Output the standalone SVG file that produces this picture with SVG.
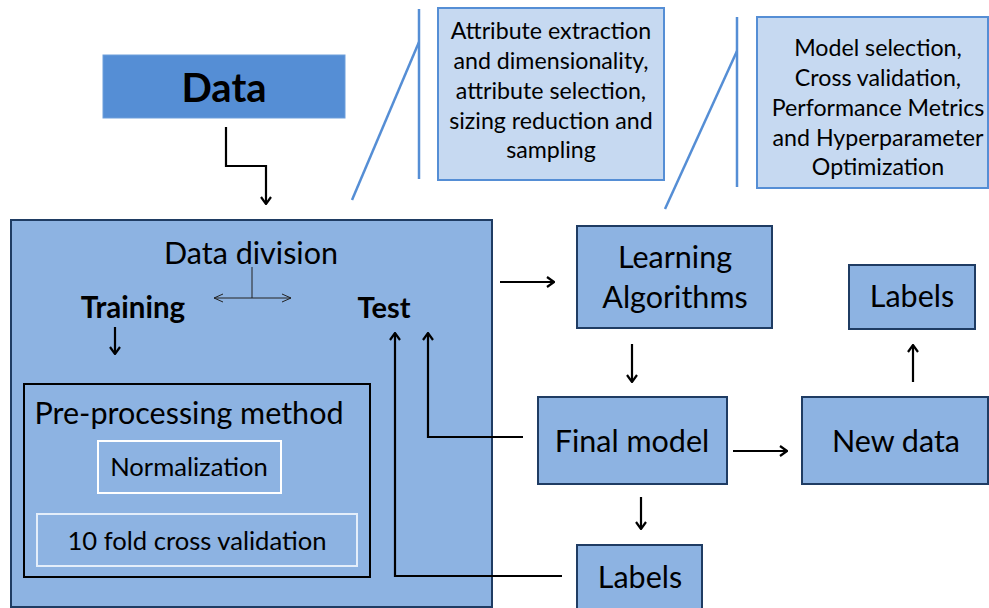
<svg xmlns="http://www.w3.org/2000/svg" width="989" height="608" viewBox="0 0 989 608">
  <style>
    text { font-family: Lato, "Open Sans", "Liberation Sans", sans-serif; fill: #000; text-anchor: middle; }
    .box { fill: #8db3e2; stroke: #1f3c63; stroke-width: 2; }
    .info { fill: #c6d9f1; stroke: #558ed5; stroke-width: 2; }
    .callout { stroke: #558ed5; stroke-width: 2.5; fill: none; }
    .lbl { font-size: 30.5px; }
    .small { font-size: 23.2px; }
    .inner { font-size: 25.6px; }
    .bold { font-weight: bold; }
    .conn { stroke: #000; stroke-width: 2.2; fill: none; }
    .thin { stroke: #222; stroke-width: 1; fill: none; }
  </style>
  <defs>
    <marker id="arrow" viewBox="0 0 12 12" refX="11" refY="6" markerWidth="12" markerHeight="12" markerUnits="userSpaceOnUse" orient="auto">
      <path d="M4,1 L11,6 L4,11" fill="none" stroke="#000" stroke-width="2.2"/>
    </marker>
    <marker id="arrowThin" viewBox="0 0 12 12" refX="11" refY="6" markerWidth="12" markerHeight="12" markerUnits="userSpaceOnUse" orient="auto">
      <path d="M2,2 L11,6 L2,10" fill="none" stroke="#222" stroke-width="1"/>
    </marker>
  </defs>

  <!-- input data -->
  <g id="data">
    <rect x="103" y="55" width="242" height="63" fill="#558ed5" stroke="#6f9fdb" stroke-width="1"/>
    <text x="224" y="102" class="bold" font-size="40">Data</text>
  </g>

  <!-- feature engineering note -->
  <g id="note-attributes">
    <rect class="info" x="438" y="8" width="226" height="172"/>
    <text class="small" x="551" y="39">Attribute extraction</text>
    <text class="small" x="551" y="69">and dimensionality,</text>
    <text class="small" x="551" y="99">attribute selection,</text>
    <text class="small" x="551" y="129">sizing reduction and</text>
    <text class="small" x="551" y="158">sampling</text>
  </g>

  <!-- model tuning note -->
  <g id="note-model">
    <rect class="info" x="757" y="17" width="231" height="171"/>
    <text class="small" x="878" y="56">Model selection,</text>
    <text class="small" x="878" y="86">Cross validation,</text>
    <text class="small" x="878" y="116">Performance Metrics</text>
    <text class="small" x="878" y="146">and Hyperparameter</text>
    <text class="small" x="878" y="175">Optimization</text>
  </g>

  <!-- data division / preprocessing container -->
  <g id="data-division">
    <rect class="box" x="11" y="220" width="481" height="387"/>
    <text class="lbl" x="251" y="264">Data division</text>
    <text class="bold" x="133" y="318" font-size="29.5">Training</text>
    <text class="bold" x="384" y="318" font-size="29">Test</text>
  </g>

  <g id="preprocessing">
    <rect x="24" y="384" width="346" height="193" fill="none" stroke="#000" stroke-width="2"/>
    <text class="lbl" x="189" y="424">Pre-processing method</text>
  </g>

  <g id="normalization">
    <rect x="98" y="441" width="183" height="52" fill="none" stroke="#fff" stroke-width="2"/>
    <text class="inner" x="189" y="476">Normalization</text>
  </g>

  <g id="cross-validation">
    <rect x="37" y="514" width="320" height="52" fill="none" stroke="#e4eefa" stroke-width="2"/>
    <text class="inner" x="197" y="550">10 fold cross validation</text>
  </g>

  <g id="learning">
    <rect class="box" x="577" y="226" width="195" height="102"/>
    <text class="lbl" x="675" y="268">Learning</text>
    <text class="lbl" x="675" y="308">Algorithms</text>
  </g>

  <g id="final-model">
    <rect class="box" x="538" y="397" width="189" height="87"/>
    <text class="lbl" x="632" y="452">Final model</text>
  </g>

  <g id="new-data">
    <rect class="box" x="802" y="397" width="186" height="87"/>
    <text class="lbl" x="896" y="452">New data</text>
  </g>

  <g id="labels-new">
    <rect class="box" x="849" y="265" width="126" height="64"/>
    <text class="lbl" x="912" y="307">Labels</text>
  </g>

  <g id="labels-test">
    <rect class="box" x="577" y="545" width="125" height="70"/>
    <text class="lbl" x="640" y="588">Labels</text>
  </g>

  <!-- connectors -->
  <g id="connectors">
    <polyline class="conn" points="226,127 226,166 266,166 266,204" marker-end="url(#arrow)"/>
    <line class="callout" x1="419" y1="9" x2="419" y2="179"/>
    <line class="callout" x1="419" y1="42" x2="352" y2="200"/>
    <line class="callout" x1="737" y1="17" x2="737" y2="187"/>
    <line class="callout" x1="737" y1="51" x2="665" y2="209"/>
    <polyline class="thin" points="252,267 252,298"/>
    <line class="thin" x1="252" y1="298" x2="214" y2="298" marker-end="url(#arrowThin)"/>
    <line class="thin" x1="252" y1="298" x2="291" y2="298" marker-end="url(#arrowThin)"/>
    <line class="conn" x1="115" y1="327" x2="115" y2="354" marker-end="url(#arrow)"/>
    <polyline class="conn" points="562,576 395,576 395,333" marker-end="url(#arrow)"/>
    <polyline class="conn" points="523,437 428,437 428,333" marker-end="url(#arrow)"/>
    <line class="conn" x1="500" y1="282" x2="554" y2="282" marker-end="url(#arrow)"/>
    <line class="conn" x1="632" y1="344" x2="632" y2="382" marker-end="url(#arrow)"/>
    <line class="conn" x1="641" y1="497" x2="641" y2="529" marker-end="url(#arrow)"/>
    <line class="conn" x1="733" y1="451" x2="787" y2="451" marker-end="url(#arrow)"/>
    <line class="conn" x1="913" y1="382" x2="913" y2="345" marker-end="url(#arrow)"/>
  </g>
</svg>
